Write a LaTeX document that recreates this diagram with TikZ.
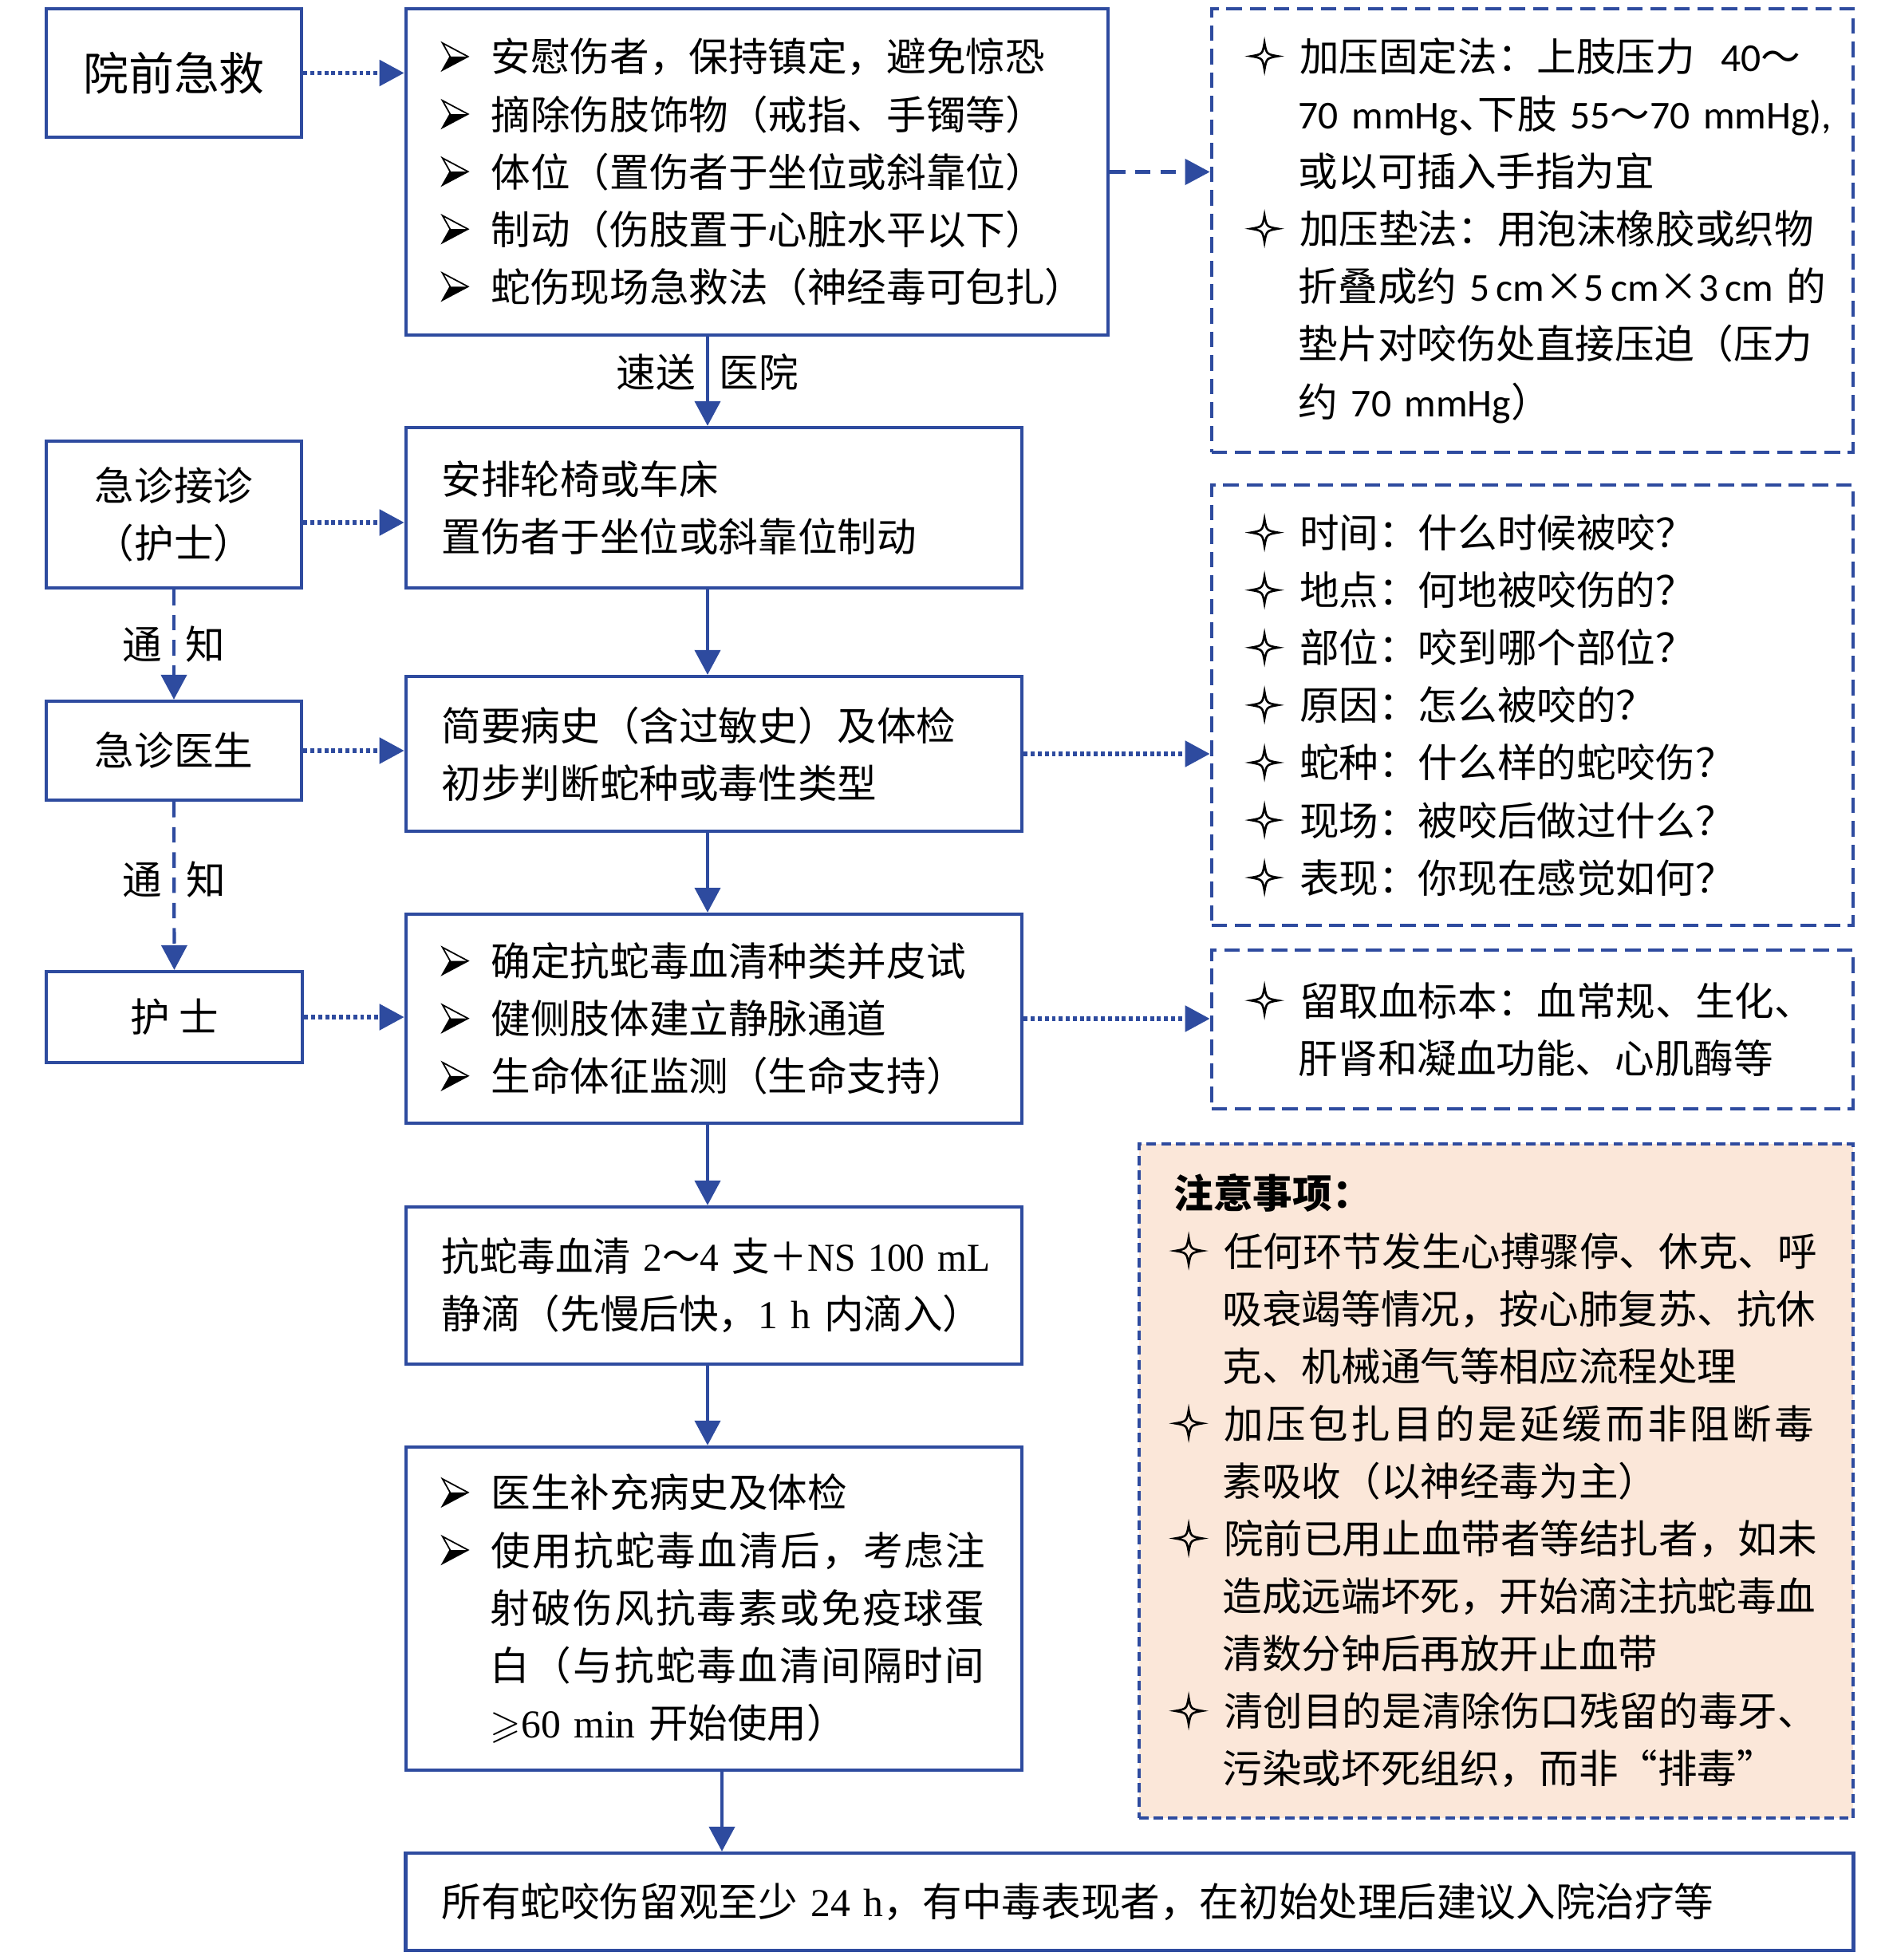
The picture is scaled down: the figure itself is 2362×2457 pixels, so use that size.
\documentclass[border=0pt]{standalone}
\usepackage{tikz}
\usepackage{graphicx}
\usepackage{fontspec}
\usepackage{amssymb}
\setmainfont{Noto Sans CJK SC}
\newfontfamily\carl{Carlito}
\newfontfamily\lser{Liberation Serif}
\usetikzlibrary{arrows.meta,calc}
\definecolor{myblue}{HTML}{2E4B9F}
\definecolor{peach}{HTML}{FBE7D9}
\newcommand{\fs}{\fontsize{14.1pt}{20.5pt}\selectfont}
\newsavebox\arrbox
\newsavebox\starbox
\newcommand{\arrb}{\usebox\arrbox}
\newcommand{\starb}{\usebox\starbox}
\newcommand{\indb}{\hspace*{0.61cm}}
\tikzset{
  box/.style={rectangle, draw=myblue, line width=1.2pt, inner xsep=0.45cm, inner ysep=0pt, font=\fs, align=left},
  cbox/.style={rectangle, draw=myblue, line width=1.2pt, inner sep=0pt, font=\fs, align=center, minimum width=3.2cm},
  dbox/.style={box, dash pattern=on 5.6pt off 2.8pt},
  solidarr/.style={draw=myblue, line width=1.2pt, -{Triangle[length=0.31cm,width=0.32cm]}},
  dotarr/.style={solidarr, line width=1.5pt, dash pattern=on 1.4pt off 1.1pt},
  dasharr/.style={solidarr, dash pattern=on 5.5pt off 3.5pt},
  lbl/.style={font=\fs, inner sep=0pt},
}
\begin{document}
\sbox\arrbox{\tikz[baseline={(0,-0.19cm)}]{%
  \path (0,-0.19) (0.61,0);
  \fill[black] (0.096,0) -- (0.32,0) -- (0,-0.17) -- cycle;
  \draw[black, line width=0.5pt, line join=miter] (0,0.17) -- (0.32,0) -- (0,-0.17) -- (0.096,0) -- cycle;}}%
\sbox\starbox{\tikz[baseline={(0,-0.19cm)}]{%
  \path (0,-0.19) (0.61,0);
  \draw[black, line width=0.75pt, line join=miter]
    (0.17,0.17) .. controls (0.195,0.025) .. (0.34,0)
    .. controls (0.195,-0.025) .. (0.17,-0.17)
    .. controls (0.145,-0.025) .. (0,0)
    .. controls (0.145,0.025) .. cycle;}}%
\begin{tikzpicture}[x=0.01cm, y=-0.01cm]
\useasboundingbox (0,0) rectangle (2362,2457);
\fill[white] (0,0) rectangle (2362,2457);

% left column
\node[cbox, minimum height=1.61cm, font=\fontsize{16.2pt}{20pt}\selectfont] (pre) at (218,91.5) {院前急救};
\node[cbox, minimum height=1.84cm] (er) at (218,645) {急诊接诊\\（护士）};
\node[cbox, minimum height=1.24cm] (doc) at (218,941) {急诊医生};
\node[cbox, minimum height=1.14cm, minimum width=3.21cm] (nurse) at (218.5,1275) {护 士};

% middle column
\node[box, minimum width=8.8cm, minimum height=4.09cm, text width=7.9cm] (top) at (949,215.5) {%
\arrb 安慰伤者，保持镇定，避免惊恐\\
\arrb 摘除伤肢饰物（戒指、手镯等）\\
\arrb 体位（置伤者于坐位或斜靠位）\\
\arrb 制动（伤肢置于心脏水平以下）\\
\arrb 蛇伤现场急救法（神经毒可包扎）};

\node[box, minimum width=7.72cm, minimum height=2.01cm, text width=6.82cm] (arrange) at (895,636.5) {%
安排轮椅或车床\\
置伤者于坐位或斜靠位制动};

\node[box, minimum width=7.72cm, minimum height=1.94cm, text width=6.82cm] (hist) at (895,945) {%
简要病史（含过敏史）及体检\\
初步判断蛇种或毒性类型};

\node[box, minimum width=7.72cm, minimum height=2.62cm, text width=6.82cm] (confirm) at (895,1277) {%
\arrb 确定抗蛇毒血清种类并皮试\\
\arrb 健侧肢体建立静脉通道\\
\arrb 生命体征监测（生命支持）};

\node[box, minimum width=7.72cm, minimum height=1.97cm, text width=6.82cm] (serum) at (895,1611.5) {%
\scalebox{0.956}[1]{抗蛇毒血清~{\lser 2}～{\lser 4}~支＋{\lser NS~100~mL}}\\
\mbox{静滴（先慢后快，{\lser 1~h}~内滴入）}};

\node[box, minimum width=7.72cm, minimum height=4.05cm, text width=6.82cm] (supp) at (895,2016.5) {%
\arrb 医生补充病史及体检\\
\arrb {\addfontfeature{LetterSpace=4.5}使用抗蛇毒血清后，考虑注}\\
\indb {\addfontfeature{LetterSpace=4.5}射破伤风抗毒素或免疫球蛋}\\
\indb {\addfontfeature{LetterSpace=4.5}白（与抗蛇毒血清间隔时间}\\
\indb \mbox{$\geqslant${\lser 60~min}~开始使用）}};

\node[box, minimum width=18.14cm, minimum height=1.22cm, text width=17.24cm] (final) at (1416,2384) {%
所有蛇咬伤留观至少~{\lser 24~h}，有中毒表现者，在初始处理后建议入院治疗等};

% right column
\node[dbox, inner xsep=0.48cm, minimum width=8.04cm, minimum height=5.56cm, text width=7.08cm] (r1) at (1921,289) {%
\starb 加压固定法：上肢压力\hspace{0.65em}{\carl 40}～\\
\indb \mbox{{\carl 70~mmHg}\makebox[0.5em][l]{、}下肢~{\carl 55}～{\carl 70~mmHg),}}\\
\indb 或以可插入手指为宜\\
\starb 加压垫法：用泡沫橡胶或织物\\
\indb \makebox[6.61cm][s]{折叠成约\hfill{\carl 5\,cm}×{\carl 5\,cm}×{\carl 3\,cm}\hfill 的}\\
\indb 垫片对咬伤处直接压迫（压力\\
\indb \mbox{约~{\carl 70~mmHg}）}};

\node[dbox, inner xsep=0.48cm, minimum width=8.04cm, minimum height=5.52cm, text width=7.08cm] (r2) at (1921,884) {%
\starb 时间：什么时候被咬？\\
\starb 地点：何地被咬伤的？\\
\starb 部位：咬到哪个部位？\\
\starb 原因：怎么被咬的？\\
\starb 蛇种：什么样的蛇咬伤？\\
\starb 现场：被咬后做过什么？\\
\starb 表现：你现在感觉如何？};

\node[dbox, inner xsep=0.48cm, minimum width=8.04cm, minimum height=1.99cm, text width=7.08cm] (r3) at (1921,1290.5) {%
\starb 留取血标本：血常规、生化、\\
\indb 肝肾和凝血功能、心肌酶等};

\node[box, fill=peach, dash pattern=on 3.4pt off 1.8pt, inner xsep=0.44cm, minimum width=8.95cm, minimum height=8.45cm, text width=8.07cm] (note) at (1875.5,1856.5) {%
{\bfseries 注意事项：}\\
\starb 任何环节发生心搏骤停、休克、呼\\
\indb 吸衰竭等情况，按心肺复苏、抗休\\
\indb 克、机械通气等相应流程处理\\
\starb {\addfontfeature{LetterSpace=7.1}加压包扎目的是延缓而非阻断毒}\\
\indb 素吸收（以神经毒为主）\\
\starb 院前已用止血带者等结扎者，如未\\
\indb 造成远端坏死，开始滴注抗蛇毒血\\
\indb 清数分钟后再放开止血带\\
\starb 清创目的是清除伤口残留的毒牙、\\
\indb 污染或坏死组织，而非“排毒”};

% helper coordinates for vertical trunk
\coordinate (mx) at (887,0);
\coordinate (mx2) at (905,0);

% vertical arrows, middle column
\draw[solidarr] (top.south -| mx) -- (arrange.north -| mx)
  node[lbl, pos=0.4] (lblsend) {速送\hspace{0.3cm}医院};
\draw[solidarr] (arrange.south -| mx) -- (hist.north -| mx);
\draw[solidarr] (hist.south -| mx) -- (confirm.north -| mx);
\draw[solidarr] (confirm.south -| mx) -- (serum.north -| mx);
\draw[solidarr] (serum.south -| mx) -- (supp.north -| mx);
\draw[solidarr] (supp.south -| mx2) -- (final.north -| mx2);

% left column vertical dashed arrows
\draw[dasharr] (er.south) -- (doc.north)
  node[lbl, midway] (lbl1) {通\hspace{0.3cm}知};
\draw[dasharr] (doc.south) -- (nurse.north)
  node[lbl, midway, yshift=0.08cm] (lbl2) {通\hspace{0.3cm}知};

% horizontal arrows
\draw[dotarr] (pre.east) -- (pre.east -| top.west);
\draw[dotarr] ([yshift=-0.1cm]er.east) -- ([yshift=-0.1cm]er.east -| arrange.west);
\draw[dotarr] (doc.east) -- (doc.east -| hist.west);
\draw[dotarr] (nurse.east) -- (nurse.east -| confirm.west);
\draw[dasharr] (top.east) -- (top.east -| r1.west);
\draw[dotarr] (hist.east) -- (hist.east -| r2.west);
\draw[dotarr] (confirm.east) -- (confirm.east -| r3.west);
\end{tikzpicture}
\end{document}
